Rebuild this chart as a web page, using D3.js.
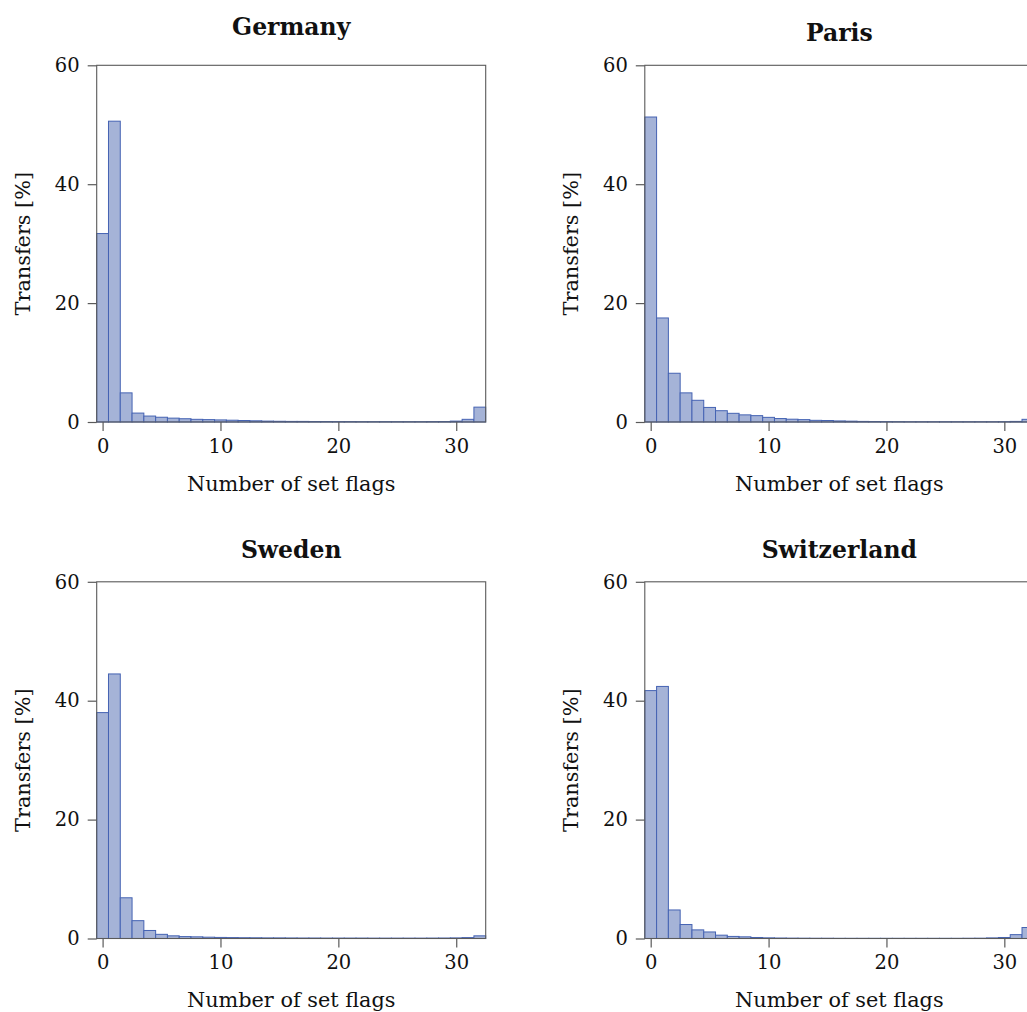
<!DOCTYPE html>
<html>
<head>
<meta charset="utf-8">
<script src="https://cdn.jsdelivr.net/npm/d3@7/dist/d3.min.js"></script>
<style>
  html, body { margin: 0; padding: 0; background: #fff; }
  svg { display: block; }
  text { font-family: "DejaVu Serif", serif; fill: #111; }
</style>
</head>
<body>
<svg id="chart" width="1027" height="1012"></svg>
<script>
// ---- Data ----
const flagCounts = [0,1,2,3,4,5,6,7,8,9,10,11,12,13,14,15,16,17,18,19,20,21,22,23,24,25,26,27,28,29,30,31,32];
const panelTitles = ["Germany", "Paris", "Sweden", "Switzerland"];
const germany = [31.7, 50.6, 4.9, 1.5, 1.0, 0.8, 0.65, 0.55, 0.45, 0.4, 0.35, 0.3, 0.25, 0.2, 0.15, 0.12, 0.1, 0.1, 0.08, 0.08, 0.07, 0.07, 0.06, 0.06, 0.06, 0.06, 0.06, 0.06, 0.07, 0.08, 0.15, 0.45, 2.5];
const paris = [51.3, 17.5, 8.2, 4.9, 3.65, 2.45, 1.9, 1.46, 1.2, 1.07, 0.78, 0.58, 0.47, 0.4, 0.28, 0.25, 0.18, 0.14, 0.1, 0.08, 0.07, 0.06, 0.05, 0.05, 0.05, 0.05, 0.05, 0.05, 0.05, 0.05, 0.06, 0.1, 0.45];
const sweden = [38.0, 44.5, 6.85, 3.0, 1.35, 0.7, 0.45, 0.32, 0.28, 0.22, 0.18, 0.15, 0.13, 0.12, 0.1, 0.1, 0.09, 0.08, 0.08, 0.07, 0.07, 0.07, 0.07, 0.06, 0.06, 0.06, 0.06, 0.06, 0.07, 0.08, 0.1, 0.15, 0.45];
const switzerland = [41.7, 42.4, 4.8, 2.35, 1.45, 1.1, 0.56, 0.35, 0.28, 0.17, 0.11, 0.08, 0.06, 0.05, 0.04, 0.04, 0.03, 0.03, 0.03, 0.03, 0.03, 0.03, 0.03, 0.03, 0.03, 0.03, 0.03, 0.04, 0.05, 0.1, 0.17, 0.65, 1.85];
const xTicks = [0, 10, 20, 30];
const yTicks = [0, 20, 40, 60];
const xLabel = "Number of set flags";
const yLabel = "Transfers [%]";

const seriesList = [germany, paris, sweden, switzerland];

// ---- Layout ----
const plotW = 389, plotH = 356.7;
const origins = [
  {x: 96.7, y: 65.3},
  {x: 644.8, y: 65.3},
  {x: 96.7, y: 581.8},
  {x: 644.8, y: 581.8}
];

const barFill = "#a5b3d7";
const barStroke = "#4563b3";
const axisColor = "#5a5a5a";
const tickFont = 19.5, labelFont = 20.8, titleFont = 23.5;

const svg = d3.select("#chart");

const x = d3.scaleLinear().domain([-0.5, 32.5]).range([0, plotW]);
const y = d3.scaleLinear().domain([0, 60]).range([plotH, 0]);

seriesList.forEach((vals, p) => {
  const o = origins[p];
  const g = svg.append("g").attr("transform", `translate(${o.x},${o.y})`);

  // bars
  g.append("g").selectAll("rect")
    .data(flagCounts.map((c, i) => ({c, v: vals[i]})))
    .join("rect")
    .attr("x", d => x(d.c - 0.5))
    .attr("width", d => x(d.c + 0.5) - x(d.c - 0.5))
    .attr("y", d => y(d.v))
    .attr("height", d => y(0) - y(d.v))
    .attr("fill", barFill)
    .attr("stroke", barStroke)
    .attr("stroke-width", 1);

  // frame
  g.append("rect")
    .attr("x", 0).attr("y", 0)
    .attr("width", plotW).attr("height", plotH)
    .attr("fill", "none")
    .attr("stroke", axisColor)
    .attr("stroke-width", 1.1);

  // x axis
  const xa = g.append("g")
    .attr("transform", `translate(0,${plotH})`)
    .call(d3.axisBottom(x).tickValues(xTicks).tickSize(9).tickSizeOuter(0).tickPadding(8));
  xa.select(".domain").remove();
  xa.selectAll(".tick line").attr("stroke", axisColor).attr("stroke-width", 1.2);
  xa.selectAll(".tick text").attr("font-family", "DejaVu Serif").attr("font-size", tickFont).attr("fill", "#111");

  // y axis
  const ya = g.append("g")
    .call(d3.axisLeft(y).tickValues(yTicks).tickSize(9).tickSizeOuter(0).tickPadding(8));
  ya.select(".domain").remove();
  ya.selectAll(".tick line").attr("stroke", axisColor).attr("stroke-width", 1.2);
  ya.selectAll(".tick text").attr("font-family", "DejaVu Serif").attr("font-size", tickFont).attr("fill", "#111");

  // title
  const t = panelTitles[p];
  const desc = /[gjpqy]/.test(t) ? 6 : 0;
  g.append("text")
    .attr("x", plotW / 2)
    .attr("y", -24 - desc)
    .attr("text-anchor", "middle")
    .attr("font-size", titleFont)
    .attr("font-weight", "bold")
    .text(t);

  // x label
  g.append("text")
    .attr("x", plotW / 2)
    .attr("y", plotH + 69)
    .attr("text-anchor", "middle")
    .attr("font-size", labelFont)
    .text(xLabel);

  // y label
  g.append("text")
    .attr("transform", `translate(-67,${plotH / 2}) rotate(-90)`)
    .attr("text-anchor", "middle")
    .attr("font-size", labelFont)
    .text(yLabel);
});
</script>
</body>
</html>
